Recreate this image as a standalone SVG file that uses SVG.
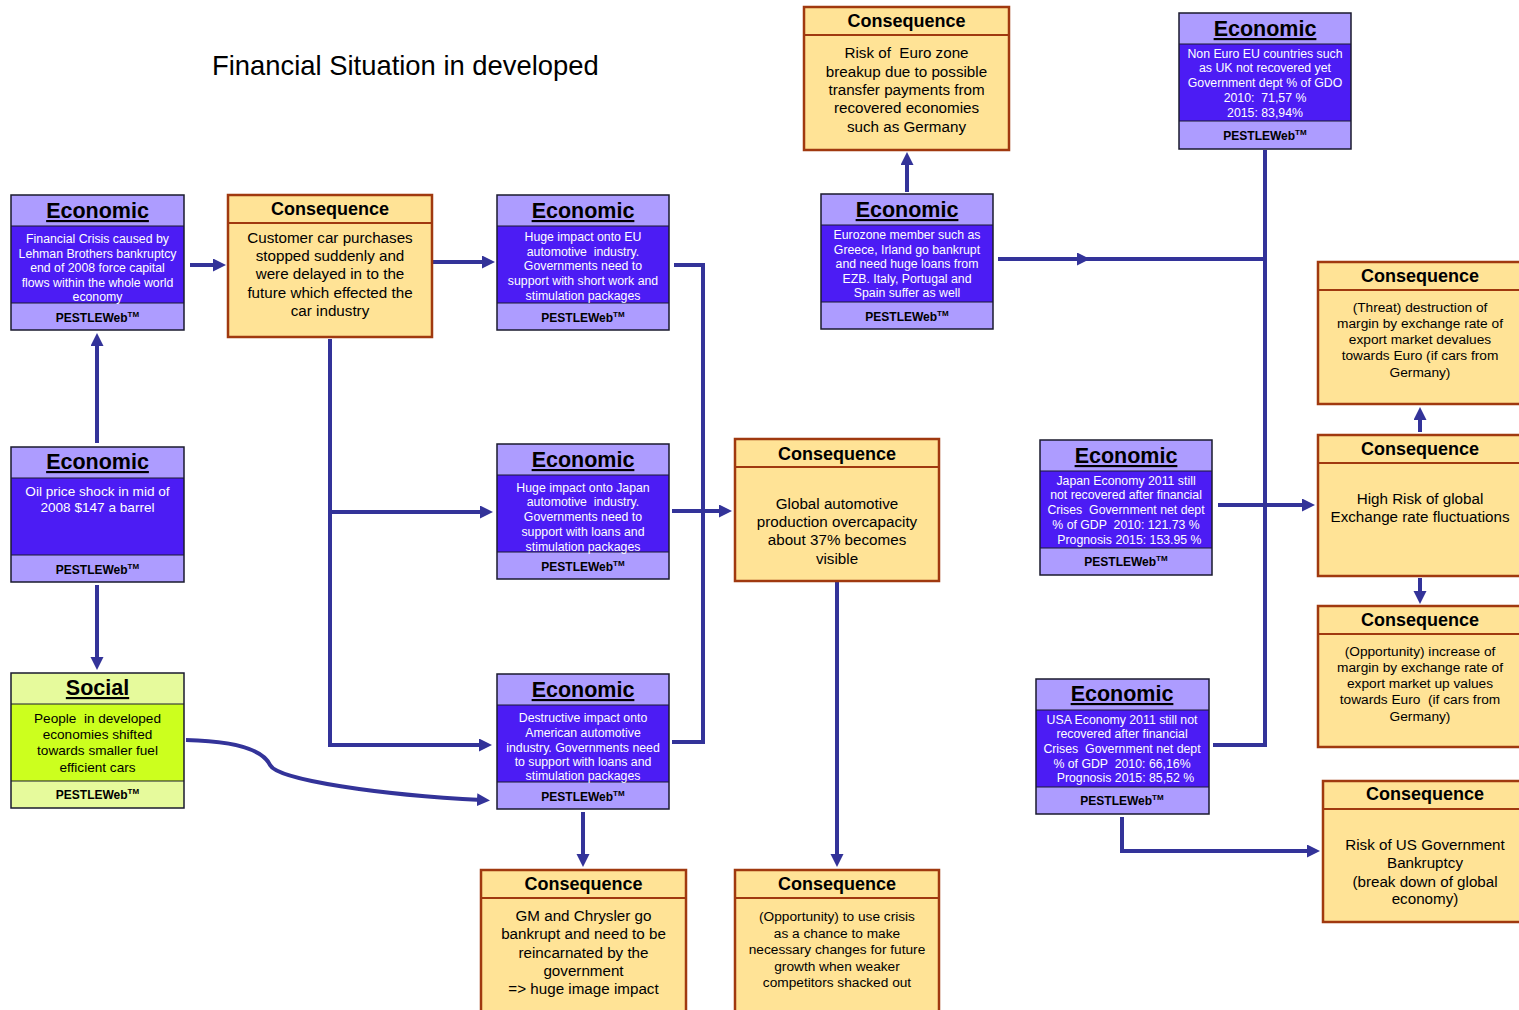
<svg xmlns="http://www.w3.org/2000/svg" width="1519" height="1010" viewBox="0 0 1519 1010">
<style>
text{font-family:"Liberation Sans",Arial,sans-serif;white-space:pre;text-anchor:middle}
.title{font-size:27.4px;text-anchor:start;fill:#000}
.eo{fill:none;stroke:#1a1a2e;stroke-width:1.5}
.eh{fill:#AD9CFF}
.ebg{fill:#4C1CF4}
.ehT{font-size:21.5px;font-weight:bold;text-decoration:underline;fill:#000}
.ebT{font-size:12.3px;fill:#fff}
.obT{font-size:13.6px;fill:#fff}
.pf{font-size:12px;font-weight:bold;fill:#000}
.tm{font-size:8px}
.sh{fill:#E6FA9C}
.sbg{fill:#CCFF1E}
.sbT{font-size:13.6px;fill:#000}
.cbox{fill:#FFE396;stroke:#A0390F;stroke-width:2.5}
.cline{stroke:#A0390F;stroke-width:2}
.chT{font-size:18px;font-weight:bold;fill:#000}
.c15{font-size:15.2px;fill:#000}
.c13{font-size:13.7px;fill:#000}
.sep{stroke:#1a1a2e;stroke-width:1.2}
.conn{fill:none;stroke:#333399;stroke-width:4}
.arr{marker-end:url(#ah)}
</style>
<defs>
<marker id="ah" markerWidth="14" markerHeight="14" refX="5" refY="6.5" orient="auto" markerUnits="userSpaceOnUse">
<path d="M0,0 L13,6.5 L0,13 Z" fill="#333399"/>
</marker>
</defs>
<rect width="1519" height="1010" fill="#fff"/>
<text class="title" x="212" y="75">Financial Situation in developed</text>

<g id="connectors">
<path class="conn arr" d="M190,265 H218"/>
<path class="conn arr" d="M432,262 H487"/>
<path class="conn arr" d="M330,339 V745 H484"/>
<path class="conn arr" d="M330,512 H485"/>
<path class="conn arr" d="M672,511 H724"/>
<path class="conn" d="M674,265 H703 V742 H672"/>
<path class="conn arr" d="M583,812 V859"/>
<path class="conn arr" d="M837,581 V859"/>
<path class="conn arr" d="M907,192 V160"/>
<path class="conn arr" d="M998,259 H1082"/>
<path class="conn" d="M1080,259 H1265"/>
<path class="conn" d="M1265,150 V747"/>
<path class="conn" d="M1213,745 H1267"/>
<path class="conn arr" d="M1218,505 H1307"/>
<path class="conn arr" d="M1420,432 V415"/>
<path class="conn arr" d="M1420,578 V596"/>
<path class="conn arr" d="M1122,817 V851 H1312"/>
<path class="conn arr" d="M97,443 V341"/>
<path class="conn arr" d="M97,585 V662"/>
<path class="conn arr" d="M186,740 C230,741 262,748 270,765 C278,780 380,795 482,800"/>
</g>

<!-- Economic nodes -->
<g id="econ-financial-crisis">
<rect class="eh" x="11" y="195" width="173" height="135"/>
<rect class="ebg" x="11" y="226" width="173" height="77"/>
<line class="sep" x1="11" y1="226" x2="184" y2="226"/><line class="sep" x1="11" y1="303" x2="184" y2="303"/>
<rect class="eo" x="11" y="195" width="173" height="135"/>
<text class="ehT" x="97.5" y="218">Economic</text>
<text class="ebT" x="97.5" y="243">Financial Crisis caused by</text>
<text class="ebT" x="97.5" y="257.5">Lehman Brothers bankruptcy</text>
<text class="ebT" x="97.5" y="272">end of 2008 force capital</text>
<text class="ebT" x="97.5" y="286.5">flows within the whole world</text>
<text class="ebT" x="97.5" y="301">economy</text>
<text class="pf" x="97.5" y="322">PESTLEWeb<tspan class="tm" dy="-5">TM</tspan></text>
</g>

<g id="econ-eu-impact">
<rect class="eh" x="497" y="195" width="172" height="135"/>
<rect class="ebg" x="497" y="226" width="172" height="77"/>
<line class="sep" x1="497" y1="226" x2="669" y2="226"/><line class="sep" x1="497" y1="303" x2="669" y2="303"/>
<rect class="eo" x="497" y="195" width="172" height="135"/>
<text class="ehT" x="583" y="218">Economic</text>
<text class="ebT" x="583" y="241">Huge impact onto EU</text>
<text class="ebT" x="583" y="256">automotive  industry.</text>
<text class="ebT" x="583" y="270">Governments need to</text>
<text class="ebT" x="583" y="285">support with short work and</text>
<text class="ebT" x="583" y="300">stimulation packages</text>
<text class="pf" x="583" y="322">PESTLEWeb<tspan class="tm" dy="-5">TM</tspan></text>
</g>

<g id="econ-eurozone">
<rect class="eh" x="821" y="194" width="172" height="135"/>
<rect class="ebg" x="821" y="225" width="172" height="77"/>
<line class="sep" x1="821" y1="225" x2="993" y2="225"/><line class="sep" x1="821" y1="302" x2="993" y2="302"/>
<rect class="eo" x="821" y="194" width="172" height="135"/>
<text class="ehT" x="907" y="217">Economic</text>
<text class="ebT" x="907" y="239">Eurozone member such as</text>
<text class="ebT" x="907" y="254">Greece, Irland go bankrupt</text>
<text class="ebT" x="907" y="268">and need huge loans from</text>
<text class="ebT" x="907" y="283">EZB. Italy, Portugal and</text>
<text class="ebT" x="907" y="297">Spain suffer as well</text>
<text class="pf" x="907" y="321">PESTLEWeb<tspan class="tm" dy="-5">TM</tspan></text>
</g>

<g id="econ-non-euro">
<rect class="eh" x="1179" y="13" width="172" height="136"/>
<rect class="ebg" x="1179" y="44" width="172" height="77"/>
<line class="sep" x1="1179" y1="44" x2="1351" y2="44"/><line class="sep" x1="1179" y1="121" x2="1351" y2="121"/>
<rect class="eo" x="1179" y="13" width="172" height="136"/>
<text class="ehT" x="1265" y="36">Economic</text>
<text class="ebT" x="1265" y="58">Non Euro EU countries such</text>
<text class="ebT" x="1265" y="72">as UK not recovered yet</text>
<text class="ebT" x="1265" y="87">Government dept % of GDO</text>
<text class="ebT" x="1265" y="102">2010:  71,57 %</text>
<text class="ebT" x="1265" y="117">2015: 83,94%</text>
<text class="pf" x="1265" y="140">PESTLEWeb<tspan class="tm" dy="-5">TM</tspan></text>
</g>

<g id="econ-japan-economy">
<rect class="eh" x="1040" y="440" width="172" height="135"/>
<rect class="ebg" x="1040" y="471" width="172" height="77"/>
<line class="sep" x1="1040" y1="471" x2="1212" y2="471"/><line class="sep" x1="1040" y1="548" x2="1212" y2="548"/>
<rect class="eo" x="1040" y="440" width="172" height="135"/>
<text class="ehT" x="1126" y="463">Economic</text>
<text class="ebT" x="1126" y="485">Japan Economy 2011 still</text>
<text class="ebT" x="1126" y="499">not recovered after financial</text>
<text class="ebT" x="1126" y="514">Crises  Government net dept</text>
<text class="ebT" x="1126" y="529">% of GDP  2010: 121.73 %</text>
<text class="ebT" x="1126" y="544">  Prognosis 2015: 153.95 %</text>
<text class="pf" x="1126" y="566">PESTLEWeb<tspan class="tm" dy="-5">TM</tspan></text>
</g>

<g id="econ-usa-economy">
<rect class="eh" x="1036" y="679" width="173" height="135"/>
<rect class="ebg" x="1036" y="710" width="173" height="77"/>
<line class="sep" x1="1036" y1="710" x2="1209" y2="710"/><line class="sep" x1="1036" y1="787" x2="1209" y2="787"/>
<rect class="eo" x="1036" y="679" width="173" height="135"/>
<text class="ehT" x="1122" y="701">Economic</text>
<text class="ebT" x="1122" y="724">USA Economy 2011 still not</text>
<text class="ebT" x="1122" y="738">recovered after financial</text>
<text class="ebT" x="1122" y="753">Crises  Government net dept</text>
<text class="ebT" x="1122" y="768">% of GDP  2010: 66,16%</text>
<text class="ebT" x="1122" y="782">  Prognosis 2015: 85,52 %</text>
<text class="pf" x="1122" y="805">PESTLEWeb<tspan class="tm" dy="-5">TM</tspan></text>
</g>

<g id="econ-japan-impact">
<rect class="eh" x="497" y="444" width="172" height="135"/>
<rect class="ebg" x="497" y="475" width="172" height="77"/>
<line class="sep" x1="497" y1="475" x2="669" y2="475"/><line class="sep" x1="497" y1="552" x2="669" y2="552"/>
<rect class="eo" x="497" y="444" width="172" height="135"/>
<text class="ehT" x="583" y="467">Economic</text>
<text class="ebT" x="583" y="492">Huge impact onto Japan</text>
<text class="ebT" x="583" y="506">automotive  industry.</text>
<text class="ebT" x="583" y="521">Governments need to</text>
<text class="ebT" x="583" y="536">support with loans and</text>
<text class="ebT" x="583" y="551">stimulation packages</text>
<text class="pf" x="583" y="571">PESTLEWeb<tspan class="tm" dy="-5">TM</tspan></text>
</g>

<g id="econ-american">
<rect class="eh" x="497" y="674" width="172" height="135"/>
<rect class="ebg" x="497" y="705" width="172" height="77"/>
<line class="sep" x1="497" y1="705" x2="669" y2="705"/><line class="sep" x1="497" y1="782" x2="669" y2="782"/>
<rect class="eo" x="497" y="674" width="172" height="135"/>
<text class="ehT" x="583" y="697">Economic</text>
<text class="ebT" x="583" y="722">Destructive impact onto</text>
<text class="ebT" x="583" y="737">American automotive</text>
<text class="ebT" x="583" y="752">industry. Governments need</text>
<text class="ebT" x="583" y="766">to support with loans and</text>
<text class="ebT" x="583" y="780">stimulation packages</text>
<text class="pf" x="583" y="801">PESTLEWeb<tspan class="tm" dy="-5">TM</tspan></text>
</g>

<g id="econ-oil">
<rect class="eh" x="11" y="447" width="173" height="135"/>
<rect class="ebg" x="11" y="478" width="173" height="77"/>
<line class="sep" x1="11" y1="478" x2="184" y2="478"/><line class="sep" x1="11" y1="555" x2="184" y2="555"/>
<rect class="eo" x="11" y="447" width="173" height="135"/>
<text class="ehT" x="97.5" y="469">Economic</text>
<text class="obT" x="97.5" y="495.5">Oil price shock in mid of</text>
<text class="obT" x="97.5" y="511.5">2008 $147 a barrel</text>
<text class="pf" x="97.5" y="574">PESTLEWeb<tspan class="tm" dy="-5">TM</tspan></text>
</g>

<g id="social">
<rect class="sh" x="11" y="673" width="173" height="135"/>
<rect class="sbg" x="11" y="704" width="173" height="77"/>
<line class="sep" x1="11" y1="704" x2="184" y2="704"/><line class="sep" x1="11" y1="781" x2="184" y2="781"/>
<rect class="eo" x="11" y="673" width="173" height="135"/>
<text class="ehT" x="97.5" y="695">Social</text>
<text class="sbT" x="97.5" y="722.5">People  in developed</text>
<text class="sbT" x="97.5" y="738.5">economies shifted</text>
<text class="sbT" x="97.5" y="754.5">towards smaller fuel</text>
<text class="sbT" x="97.5" y="771.5">efficient cars</text>
<text class="pf" x="97.5" y="799">PESTLEWeb<tspan class="tm" dy="-5">TM</tspan></text>
</g>

<!-- Consequence nodes -->
<g id="cons-customer">
<rect class="cbox" x="228" y="195" width="204" height="142"/>
<line class="cline" x1="228" y1="223" x2="432" y2="223"/>
<text class="chT" x="330" y="214.5">Consequence</text>
<text class="c15" x="330" y="243">Customer car purchases</text>
<text class="c15" x="330" y="261">stopped suddenly and</text>
<text class="c15" x="330" y="279">were delayed in to the</text>
<text class="c15" x="330" y="298">future which effected the</text>
<text class="c15" x="330" y="316">car industry</text>
</g>

<g id="cons-euro-risk">
<rect class="cbox" x="804" y="7" width="205" height="143"/>
<line class="cline" x1="804" y1="35" x2="1009" y2="35"/>
<text class="chT" x="906.5" y="26.5">Consequence</text>
<text class="c15" x="906.5" y="58">Risk of  Euro zone</text>
<text class="c15" x="906.5" y="77">breakup due to possible</text>
<text class="c15" x="906.5" y="95">transfer payments from</text>
<text class="c15" x="906.5" y="113">recovered economies</text>
<text class="c15" x="906.5" y="132">such as Germany</text>
</g>

<g id="cons-threat">
<rect class="cbox" x="1318" y="262" width="205" height="142"/>
<line class="cline" x1="1318" y1="290" x2="1523" y2="290"/>
<text class="chT" x="1420" y="281.5">Consequence</text>
<text class="c13" x="1420" y="311.5">(Threat) destruction of</text>
<text class="c13" x="1420" y="327.5">margin by exchange rate of</text>
<text class="c13" x="1420" y="343.5">export market devalues</text>
<text class="c13" x="1420" y="359.5">towards Euro (if cars from</text>
<text class="c13" x="1420" y="376.5">Germany)</text>
</g>

<g id="cons-high-risk">
<rect class="cbox" x="1318" y="435" width="205" height="141"/>
<line class="cline" x1="1318" y1="463" x2="1523" y2="463"/>
<text class="chT" x="1420" y="454.5">Consequence</text>
<text class="c15" x="1420" y="504">High Risk of global</text>
<text class="c15" x="1420" y="522">Exchange rate fluctuations</text>
</g>

<g id="cons-opportunity-increase">
<rect class="cbox" x="1318" y="606" width="205" height="141"/>
<line class="cline" x1="1318" y1="634" x2="1523" y2="634"/>
<text class="chT" x="1420" y="625.5">Consequence</text>
<text class="c13" x="1420" y="655.5">(Opportunity) increase of</text>
<text class="c13" x="1420" y="671.5">margin by exchange rate of</text>
<text class="c13" x="1420" y="687.5">export market up values</text>
<text class="c13" x="1420" y="703.5">towards Euro  (if cars from</text>
<text class="c13" x="1420" y="720.5">Germany)</text>
</g>

<g id="cons-us-bankruptcy">
<rect class="cbox" x="1323" y="781" width="205" height="141"/>
<line class="cline" x1="1323" y1="809" x2="1528" y2="809"/>
<text class="chT" x="1425" y="799.5">Consequence</text>
<text class="c15" x="1425" y="850">Risk of US Government</text>
<text class="c15" x="1425" y="868">Bankruptcy</text>
<text class="c15" x="1425" y="887">(break down of global</text>
<text class="c15" x="1425" y="904">economy)</text>
</g>

<g id="cons-global-overcapacity">
<rect class="cbox" x="735" y="439" width="204" height="142"/>
<line class="cline" x1="735" y1="467" x2="939" y2="467"/>
<text class="chT" x="837" y="459.5">Consequence</text>
<text class="c15" x="837" y="509">Global automotive</text>
<text class="c15" x="837" y="527">production overcapacity</text>
<text class="c15" x="837" y="545">about 37% becomes</text>
<text class="c15" x="837" y="564">visible</text>
</g>

<g id="cons-gm-chrysler">
<rect class="cbox" x="481" y="870" width="205" height="150"/>
<line class="cline" x1="481" y1="898" x2="686" y2="898"/>
<text class="chT" x="583.5" y="889.5">Consequence</text>
<text class="c15" x="583.5" y="921">GM and Chrysler go</text>
<text class="c15" x="583.5" y="939">bankrupt and need to be</text>
<text class="c15" x="583.5" y="958">reincarnated by the</text>
<text class="c15" x="583.5" y="976">government</text>
<text class="c15" x="583.5" y="994">=&gt; huge image impact</text>
</g>

<g id="cons-opportunity-crisis">
<rect class="cbox" x="735" y="870" width="204" height="150"/>
<line class="cline" x1="735" y1="898" x2="939" y2="898"/>
<text class="chT" x="837" y="889.5">Consequence</text>
<text class="c13" x="837" y="920.5">(Opportunity) to use crisis</text>
<text class="c13" x="837" y="937.5">as a chance to make</text>
<text class="c13" x="837" y="953.5">necessary changes for future</text>
<text class="c13" x="837" y="970.5">growth when weaker</text>
<text class="c13" x="837" y="986.5">competitors shacked out</text>
</g>
</svg>
